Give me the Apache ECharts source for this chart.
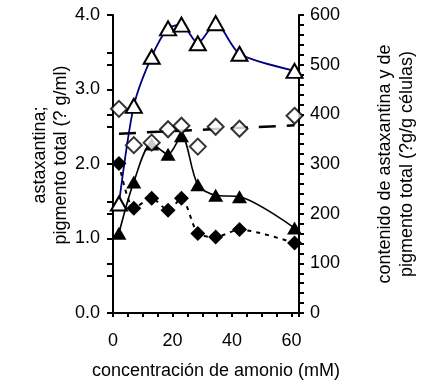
<!DOCTYPE html>
<html>
<head>
<meta charset="utf-8">
<script src="https://cdn.jsdelivr.net/npm/echarts@6/dist/echarts.min.js"></script>
<style>
html,body{margin:0;padding:0;background:#fff;}
#chart{width:425px;height:385px;}
</style>
</head>
<body>
<div id="chart"></div>
<script>
// ---- data ----
var ammonium = [2, 7, 13, 18.5, 23, 28.5, 34.5, 42.5, 61];            // mM
var totalPigmentVol = [1.47, 2.78, 3.44, 3.82, 3.87, 3.62, 3.89, 3.48, 3.25]; // µg/ml (open triangles)
var astaxVol = [1.07, 1.76, 2.27, 2.13, 2.38, 1.72, 1.58, 1.56, 1.14];        // µg/ml (filled triangles)
var totalPigmentContent = [411, 338, 343, 370, 377, 335, 375, 371, 397];      // µg/g (open diamonds)
var astaxContent = [301, 211, 231, 207, 231, 160, 153, 168, 141];             // µg/g (filled diamonds)
var trendX = [2, 61];
var trendY = [361, 378];
var xTickLabels = [0, 20, 40, 60];
var leftTickLabels = [0, 1, 2, 3, 4];
var rightTickLabels = [0, 100, 200, 300, 400, 500, 600];

function pairs(xs, ys){ return xs.map(function(x,i){ return [x, ys[i]]; }); }

var FONT = 'Liberation Sans, Arial, sans-serif';
var FS = 18;
var chart = echarts.init(document.getElementById('chart'), null, {renderer:'canvas'});
var axisLine = {show:true, onZero:false, lineStyle:{color:'#000', width:2}};

var option = {
  animation:false,
  backgroundColor:'#fff',
  textStyle:{fontFamily:FONT},
  grid:{left:113, right:126, top:15, bottom:70, containLabel:false},
  xAxis:[{
    type:'value', min:0, max:62.5, interval:5,
    axisLine:axisLine,
    axisTick:{show:true, length:4, lineStyle:{color:'#000', width:2}},
    splitLine:{show:false},
    axisLabel:{margin:19, color:'#000', fontSize:FS, fontFamily:FONT,
      formatter:function(v){ return xTickLabels.indexOf(v) >= 0 ? String(v) : ''; }},
    name:'concentración de amonio (mM)', nameLocation:'middle', nameGap:49,
    nameTextStyle:{color:'#000', fontSize:FS, fontFamily:FONT, padding:[0,0,0,20]}
  }],
  yAxis:[{
    type:'value', position:'left', min:0, max:4, interval:0.5,
    axisLine:axisLine,
    axisTick:{show:true, length:6, lineStyle:{color:'#000', width:2}},
    splitLine:{show:false},
    axisLabel:{margin:13, color:'#000', fontSize:FS, fontFamily:FONT,
      formatter:function(v){ return leftTickLabels.indexOf(v) >= 0 ? v.toFixed(1) : ''; }},
    name:'astaxantina;\npigmento total (? g/ml)', nameLocation:'middle', nameRotate:90, nameGap:39,
    nameTextStyle:{color:'#000', fontSize:FS, fontFamily:FONT, lineHeight:21, padding:[0,0,0,18]}
  },{
    type:'value', position:'right', min:0, max:600, interval:20,
    axisLine:axisLine,
    axisTick:{show:true, length:5, lineStyle:{color:'#000', width:2}},
    splitLine:{show:false},
    axisLabel:{margin:11, color:'#000', fontSize:FS, fontFamily:FONT,
      formatter:function(v){ return rightTickLabels.indexOf(v) >= 0 ? String(v) : ''; }},
    name:'contenido de astaxantina y de\npigmento total (?g/g células)', nameLocation:'middle', nameRotate:90, nameGap:75,
    nameTextStyle:{color:'#000', fontSize:FS, fontFamily:FONT, lineHeight:22}
  },{
    type:'value', position:'right', min:0, max:600, interval:100,
    axisLine:{show:false},
    axisTick:{show:true, inside:true, length:6, lineStyle:{color:'#000', width:2}},
    splitLine:{show:false},
    axisLabel:{show:false}
  }],
  series:[{
    name:'pigmento total (µg/ml)', type:'line', yAxisIndex:0, z:2,
    data:pairs(ammonium, totalPigmentVol),
    smooth:0.25, symbol:'triangle', symbolSize:[16,14],
    lineStyle:{color:'#000080', width:1.8},
    itemStyle:{color:'#fff', borderColor:'#000', borderWidth:2}
  },{
    name:'astaxantina (µg/g)', type:'line', yAxisIndex:1, z:3,
    data:pairs(ammonium, astaxContent),
    smooth:0.25, symbol:'diamond', symbolSize:[15,15],
    lineStyle:{color:'#000', width:2, type:[4,5]},
    itemStyle:{color:'#000', borderColor:'#000', borderWidth:0}
  },{
    name:'astaxantina (µg/ml)', type:'line', yAxisIndex:0, z:4,
    data:pairs(ammonium, astaxVol),
    smooth:0.3, symbol:'triangle', symbolSize:[15,13],
    lineStyle:{color:'#000', width:1.6},
    itemStyle:{color:'#000', borderColor:'#000', borderWidth:0}
  },{
    name:'tendencia', type:'line', yAxisIndex:1, z:5,
    data:pairs(trendX, trendY),
    symbol:'none',
    lineStyle:{color:'#000', width:2.5, type:[17,11]}
  },{
    name:'pigmento total (µg/g)', type:'scatter', yAxisIndex:1, z:6,
    data:pairs(ammonium, totalPigmentContent),
    symbol:'diamond', symbolSize:[16,16],
    itemStyle:{color:'#fff', borderColor:'#000', borderWidth:2}
  }]
};
chart.setOption(option);
</script>
</body>
</html>
